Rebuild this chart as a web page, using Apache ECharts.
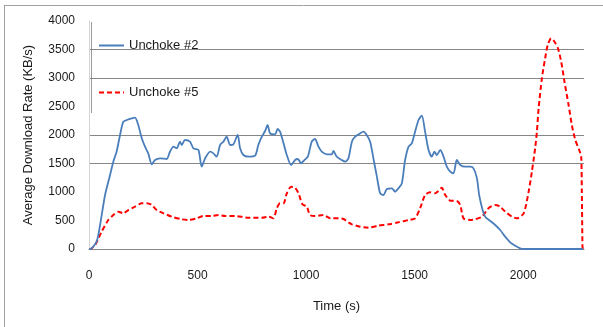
<!DOCTYPE html>
<html>
<head>
<meta charset="utf-8">
<script src="https://cdn.jsdelivr.net/npm/echarts@6/dist/echarts.min.js"></script>
<style>html,body{margin:0;padding:0;background:#fff;}#c{width:603px;height:327px;}</style>
</head>
<body>
<div id="c"></div>
<script>
var seriesNames = ['Unchoke #2', 'Unchoke #5'];
var yTicks = [0, 500, 1000, 1500, 2000, 2500, 3000, 3500, 4000];
var xTicks = [0, 500, 1000, 1500, 2000];

var blueTime = [0,5,35,51,74,97,112,127,143,158,174,197,212,227,243,258,273,289,304,327,358,373,389,404,419,427,442,465,481,504,519,535,558,573,588,604,619,634,650,665,685,696,711,734,765,780,796,811,823,834,857,869,880,896,911,931,949,962,977,992,1008,1026,1041,1057,1072,1095,1118,1126,1141,1164,1180,1195,1211,1226,1249,1264,1279,1295,1310,1326,1341,1356,1372,1395,1410,1425,1441,1456,1472,1487,1502,1518,1533,1548,1564,1579,1591,1602,1618,1633,1648,1664,1679,1694,1710,1733,1756,1771,1787,1797,1813,1825,1848,1871,1894,1917,1940,1963,1986,2000,2275];
var blueRate = [0,0,128,421,947,1298,1532,1707,2000,2234,2263,2292,2304,2175,1942,1795,1678,1486,1561,1591,1579,1707,1795,1766,1883,1825,1912,1883,1766,1737,1444,1591,1707,1678,1620,1825,1883,1970,1825,1836,2000,1766,1649,1620,1637,1825,1970,2070,2175,2029,2012,2105,2058,1854,1649,1474,1561,1579,1503,1561,1620,1883,1930,1795,1707,1661,1661,1719,1620,1561,1532,1591,1883,1970,2029,2058,2000,1883,1591,1269,977,947,1053,1064,1006,1064,1152,1561,1795,1854,2058,2263,2339,2058,1737,1620,1707,1649,1737,1620,1444,1357,1327,1561,1474,1444,1444,1415,1240,950,684,567,491,421,333,216,117,58,12,0,0];

var redTime = [0,5,28,58,89,112,135,158,181,212,243,266,289,312,343,381,427,458,496,527,565,596,627,673,734,796,826,849,865,880,896,911,931,949,965,983,1003,1018,1041,1080,1111,1149,1172,1195,1211,1249,1287,1333,1379,1425,1472,1502,1525,1548,1571,1594,1610,1625,1641,1664,1694,1710,1725,1756,1779,1810,1840,1871,1894,1917,1948,1971,2002,2025,2040,2055,2063,2071,2086,2101,2113,2129,2144,2160,2175,2190,2209,2224,2240,2258,2267,2270,2273,2275];
var redRate = [0,0,70,304,509,596,655,626,684,743,801,801,772,684,626,567,521,509,538,579,579,596,579,579,550,550,567,538,714,801,801,977,1093,1076,977,784,743,596,579,596,538,538,526,468,433,391,374,409,433,468,509,538,714,947,994,977,1018,1076,947,848,842,772,538,509,521,567,714,772,743,655,567,538,626,1006,1357,1766,2058,2468,2994,3345,3579,3696,3637,3521,3286,2935,2526,2175,1912,1737,1620,1006,40,0];

function pairs(t, v) { return t.map(function (x, i) { return [x, v[i]]; }); }

var gridColors = yTicks.map(function (v) {
  return (v === 1500 || v === 2000 || v === 3000 || v === 3500) ? '#868686' : 'rgba(0,0,0,0)';
});

var chart = echarts.init(document.getElementById('c'), null, { renderer: 'canvas' });
var font = 'Liberation Sans, Arial, sans-serif';
chart.setOption({
  animation: false,
  backgroundColor: '#fff',
  textStyle: { fontFamily: font },
  grid: { left: 89, right: 19, top: 21, bottom: 78, containLabel: false },
  legend: {
    orient: 'vertical', left: 93, top: 34, itemWidth: 25, itemHeight: 14, itemGap: 34,
    itemStyle: { opacity: 0 },
    textStyle: { fontSize: 13, color: '#1a1a1a', fontFamily: font },
    data: seriesNames
  },
  xAxis: {
    type: 'value', min: 0, max: 2280, interval: 500,
    name: 'Time (s)', nameLocation: 'middle', nameGap: 51,
    nameTextStyle: { fontSize: 13, color: '#1a1a1a', fontFamily: font },
    axisLine: { show: true, lineStyle: { color: '#868686', width: 1 } },
    axisTick: { show: false },
    splitLine: { show: false },
    axisLabel: { fontSize: 12, color: '#1a1a1a', margin: 21, showMaxLabel: false,
      formatter: function (v) { return xTicks.indexOf(v) >= 0 ? String(v) : ''; } }
  },
  yAxis: {
    type: 'value', min: 0, max: 4000, interval: 500,
    name: 'Average Download Rate (KB/s)', nameLocation: 'middle', nameGap: 54, nameRotate: 90,
    nameTextStyle: { fontSize: 13, color: '#1a1a1a', fontFamily: font },
    axisLine: { show: true, lineStyle: { color: '#d4d4d4', width: 1 } },
    axisTick: { show: false },
    splitLine: { show: true, lineStyle: { color: gridColors, width: 1 } },
    axisLabel: { fontSize: 12, color: '#1a1a1a', margin: 14,
      formatter: function (v) { return String(v); } }
  },
  graphic: [
    { type: 'line', shape: { x1: 4, y1: 5.5, x2: 603, y2: 5.5 }, style: { stroke: '#a0a0a0', lineWidth: 1 } },
    { type: 'line', shape: { x1: 4.5, y1: 5, x2: 4.5, y2: 327 }, style: { stroke: '#a0a0a0', lineWidth: 1 } },
    { type: 'line', shape: { x1: 91.5, y1: 22, x2: 91.5, y2: 113 }, style: { stroke: '#9a9a9a', lineWidth: 1 } }
  ],
  series: [
    { name: seriesNames[0], type: 'line', symbol: 'none', smooth: 0.25, z: 3,
      lineStyle: { color: '#4a7ebb', width: 1.8 }, itemStyle: { color: '#4a7ebb' },
      data: pairs(blueTime, blueRate) },
    { name: seriesNames[1], type: 'line', symbol: 'none', smooth: 0.25, z: 2,
      lineStyle: { color: '#ff0000', width: 2, type: [5, 3] }, itemStyle: { color: '#ff0000' },
      data: pairs(redTime, redRate) }
  ]
});
</script>
</body>
</html>
